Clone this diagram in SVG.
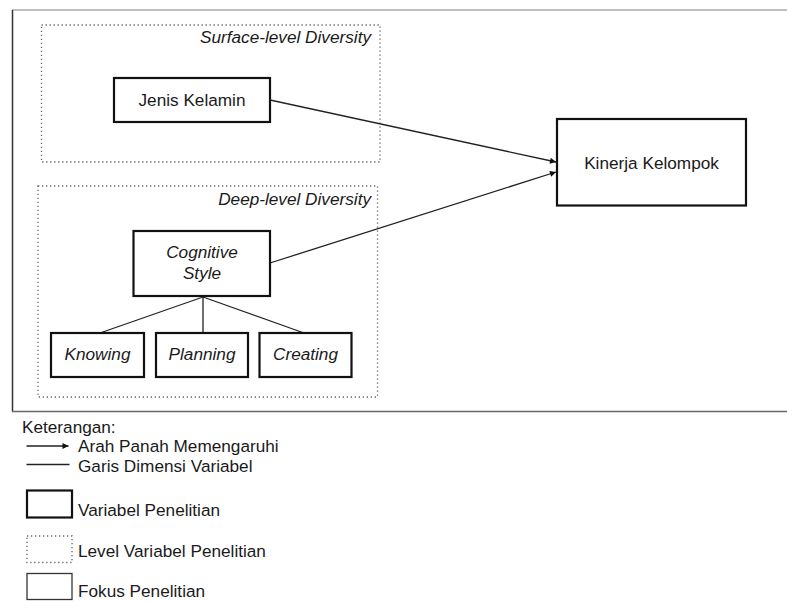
<svg xmlns="http://www.w3.org/2000/svg" width="787" height="602" viewBox="0 0 787 602">
<style>
text{font-family:"Liberation Sans",Arial,sans-serif;fill:#1a1a1a;}
.n{fill:#fff;stroke:#111;stroke-width:2.2;}
.lvl{fill:none;stroke:#666;stroke-width:1.3;stroke-dasharray:1.3 2.7;}
.c{stroke:#222;stroke-width:1.3;fill:none;}
.lbl{font-size:17.2px;}
.it{font-style:italic;}
</style>
<defs>
<marker id="ah" viewBox="0 0 10 10" refX="10" refY="5" markerWidth="8" markerHeight="6" markerUnits="userSpaceOnUse" orient="auto">
<path d="M0,0 L10,5 L0,10 z" fill="#111"/>
</marker>
</defs>
<rect width="787" height="602" fill="#fff"/>
<g id="frame">
<line x1="12" y1="10" x2="787" y2="10" stroke="#aaa" stroke-width="1.3"/>
<line x1="12.5" y1="10" x2="12.5" y2="411.5" stroke="#333" stroke-width="1.5"/>
<line x1="12" y1="411.5" x2="787" y2="411.5" stroke="#666" stroke-width="1.5"/>
</g>
<g id="surface-level">
<rect class="lvl" x="41.5" y="25" width="338.5" height="137"/>
<text class="lbl it" x="371" y="43" text-anchor="end">Surface-level Diversity</text>
</g>
<g id="deep-level">
<rect class="lvl" x="38" y="186" width="339.5" height="211"/>
<text class="lbl it" x="371" y="205" text-anchor="end">Deep-level Diversity</text>
</g>
<g id="connectors">
<line class="c" x1="270" y1="100" x2="556" y2="162" marker-end="url(#ah)"/>
<line class="c" x1="270" y1="263" x2="556" y2="172" marker-end="url(#ah)"/>
<line class="c" x1="203" y1="297" x2="100" y2="333"/>
<line class="c" x1="203" y1="297" x2="203" y2="333"/>
<line class="c" x1="203" y1="297" x2="304" y2="333"/>
</g>
<g id="jenis-kelamin">
<rect class="n" x="114" y="78" width="156" height="44"/>
<text class="lbl" x="192" y="105.5" text-anchor="middle">Jenis Kelamin</text>
</g>
<g id="cognitive-style">
<rect class="n" x="133.5" y="231" width="136.5" height="65"/>
<text class="lbl it" x="202" y="258" text-anchor="middle">Cognitive</text>
<text class="lbl it" x="202" y="279" text-anchor="middle">Style</text>
</g>
<g id="knowing">
<rect class="n" x="51" y="333" width="93" height="44"/>
<text class="lbl it" x="97.5" y="360" text-anchor="middle">Knowing</text>
</g>
<g id="planning">
<rect class="n" x="156" y="333" width="92" height="44"/>
<text class="lbl it" x="202" y="360" text-anchor="middle">Planning</text>
</g>
<g id="creating">
<rect class="n" x="259.5" y="333" width="92" height="44"/>
<text class="lbl it" x="305.5" y="360" text-anchor="middle">Creating</text>
</g>
<g id="kinerja-kelompok">
<rect class="n" x="557" y="119" width="189" height="86.5"/>
<text class="lbl" x="651.5" y="168.5" text-anchor="middle">Kinerja Kelompok</text>
</g>
<g id="legend">
<text class="lbl" x="22" y="433">Keterangan:</text>
<line class="c" x1="26.5" y1="446" x2="68.5" y2="446" marker-end="url(#ah)"/>
<text class="lbl" x="78" y="452">Arah Panah Memengaruhi</text>
<line class="c" x1="26.5" y1="464.5" x2="69.5" y2="464.5"/>
<text class="lbl" x="78" y="471.5">Garis Dimensi Variabel</text>
<rect class="n" x="27" y="490.5" width="45" height="27"/>
<text class="lbl" x="78" y="516">Variabel Penelitian</text>
<rect class="lvl" x="27" y="536" width="45" height="26.5"/>
<text class="lbl" x="78" y="556.5">Level Variabel Penelitian</text>
<rect x="27" y="573.5" width="45" height="26" fill="#fff" stroke="#333" stroke-width="1.3"/>
<text class="lbl" x="78" y="597">Fokus Penelitian</text>
</g>
</svg>
